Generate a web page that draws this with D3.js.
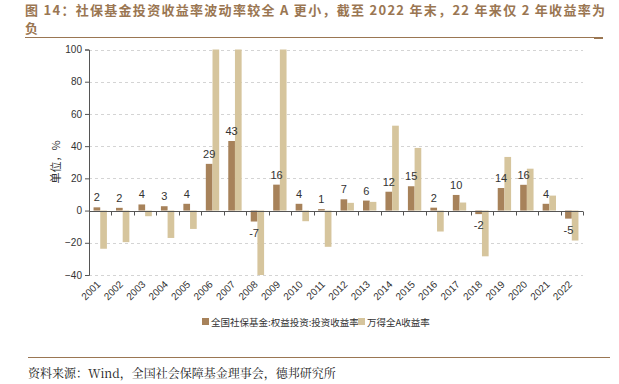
<!DOCTYPE html>
<html>
<head>
<meta charset="utf-8">
<title>社保基金投资收益率</title>
<style>
  body { margin: 0; background: #fff; }
  svg { display: block; font-family: "Liberation Sans", Arial, sans-serif; }
</style>
</head>
<body>
<script src="https://cdn.jsdelivr.net/npm/d3@7/dist/d3.min.js"></script>
<script>
// 数据
const years = ["2001","2002","2003","2004","2005","2006","2007","2008","2009","2010","2011",
               "2012","2013","2014","2015","2016","2017","2018","2019","2020","2021","2022"];
const ssfReturn = [2.0, 1.7, 3.8, 2.7, 4.2, 29.0, 43.2, -6.8, 16.1, 4.2, 0.9,
                   7.0, 6.2, 11.7, 15.1, 1.8, 9.7, -2.2, 14.0, 16.0, 4.2, -5.0];
const windAReturn = [-23.7, -19.6, -3.5, -17.0, -11.4, 130.0, 166.0, -62.0, 105.0, -6.6, -22.5,
                     4.8, 5.4, 52.7, 38.9, -13.0, 5.0, -28.4, 33.3, 26.0, 9.3, -18.6];
const seriesNames = ["全国社保基金:权益投资:投资收益率", "万得全A收益率"];
const yTicks = [-40, -20, 0, 20, 40, 60, 80, 100];

const colors = ["#a7825a", "#d6c59d"];
const brown = "#9a7652";

const width = 619, height = 384;
const svg = d3.select("body").append("svg").attr("width", width).attr("height", height);

// 标题
svg.append("text")
  .attr("x", 25).attr("y", 15)
  .attr("fill", brown)
  .attr("font-family", "'Noto Sans CJK SC', sans-serif")
  .attr("font-weight", "bold")
  .attr("font-size", 13)
  .attr("textLength", 580)
  .attr("lengthAdjust", "spacing")
  .text("图 14：社保基金投资收益率波动率较全 A 更小，截至 2022 年末，22 年来仅 2 年收益率为");
svg.append("text")
  .attr("x", 25).attr("y", 33)
  .attr("fill", brown)
  .attr("font-family", "'Noto Sans CJK SC', sans-serif")
  .attr("font-weight", "bold")
  .attr("font-size", 13)
  .text("负");
svg.append("line").attr("x1", 25).attr("x2", 603).attr("y1", 37.5).attr("y2", 37.5)
  .attr("stroke", brown).attr("stroke-width", 1);
svg.append("line").attr("x1", 594).attr("x2", 603).attr("y1", 38).attr("y2", 38)
  .attr("stroke", brown).attr("stroke-width", 2);

// 绘图区
const plot = { left: 89, right: 583, top: 49.5, bottom: 275 };

const y = d3.scaleLinear().domain([-40, 100]).range([plot.bottom, plot.top]).clamp(true);
const x0 = d3.scaleBand().domain(years).range([plot.left, plot.right]);
const x1 = d3.scaleBand().domain([0, 1]).range([0, x0.bandwidth()]).paddingOuter(0.68);

// 网格线
svg.append("g").selectAll("line")
  .data(yTicks.filter(d => d !== 0))
  .join("line")
  .attr("x1", plot.left).attr("x2", plot.right)
  .attr("y1", d => Math.round(y(d)) + 0.5).attr("y2", d => Math.round(y(d)) + 0.5)
  .attr("stroke", "#d4d4d4")
  .attr("stroke-dasharray", "3,3");

// 柱子
const groups = svg.append("g").selectAll("g")
  .data(years)
  .join("g")
  .attr("transform", d => `translate(${x0(d)},0)`);

groups.selectAll("rect")
  .data((d, i) => [ssfReturn[i], windAReturn[i]])
  .join("rect")
  .attr("x", (d, j) => x1(j))
  .attr("width", x1.bandwidth())
  .attr("y", d => y(Math.max(0, d)))
  .attr("height", d => Math.abs(y(d) - y(0)))
  .attr("fill", (d, j) => colors[j]);

// 数值标签
svg.append("g").selectAll("text")
  .data(years)
  .join("text")
  .attr("x", (d) => x0(d) + x1(0) + x1.bandwidth() / 2)
  .attr("y", (d, i) => ssfReturn[i] >= 0 ? y(ssfReturn[i]) - 6 : y(ssfReturn[i]) + 15)
  .attr("text-anchor", "middle")
  .attr("font-size", 11)
  .attr("fill", "#333")
  .text((d, i) => Math.round(ssfReturn[i]));

// y轴
const yAxis = svg.append("g")
  .attr("transform", `translate(${plot.left},0)`)
  .call(d3.axisLeft(y).tickValues(yTicks).tickSize(4).tickPadding(3));
yAxis.select(".domain").attr("stroke", "#555");
yAxis.selectAll(".tick line").attr("stroke", "#555");
yAxis.selectAll(".tick text").attr("font-size", 10).attr("fill", "#333")
  .attr("font-family", "'Liberation Sans', Arial, sans-serif");

// x轴
const xAxis = svg.append("g")
  .attr("transform", `translate(0,${Math.round(y(0)) + 0.5})`);
xAxis.append("line").attr("x1", plot.left).attr("x2", plot.right).attr("stroke", "#555");
xAxis.selectAll(".tk")
  .data(years.slice(1).concat(["end"]))
  .join("line")
  .attr("class", "tk")
  .attr("x1", (d, i) => Math.round(plot.left + x0.step() * (i + 1)) + 0.5)
  .attr("x2", (d, i) => Math.round(plot.left + x0.step() * (i + 1)) + 0.5)
  .attr("y1", 0).attr("y2", 4)
  .attr("stroke", "#555");

// x轴标签
svg.append("g").selectAll("text")
  .data(years)
  .join("text")
  .attr("transform", d => `translate(${x0(d) + x0.bandwidth() / 2 + 1},${plot.bottom + 10}) rotate(-45)`)
  .attr("text-anchor", "end")
  .attr("font-size", 10)
  .attr("fill", "#333")
  .text(d => d);

// y轴标题
svg.append("text")
  .attr("transform", `translate(60,162) rotate(-90)`)
  .attr("text-anchor", "middle")
  .attr("font-size", 11)
  .attr("fill", "#333")
  .attr("font-family", "'Noto Sans CJK SC', sans-serif")
  .text("单位，%");

// 图例
const legend = svg.append("g").attr("font-family", "'Noto Sans CJK SC', sans-serif");
const legendX = [202, 358];
seriesNames.forEach((name, i) => {
  legend.append("rect").attr("x", legendX[i]).attr("y", 318).attr("width", 7).attr("height", 7)
    .attr("fill", colors[i]);
  legend.append("text").attr("x", legendX[i] + 9).attr("y", 325.5)
    .attr("font-size", 9.5).attr("fill", "#333").text(name);
});

// 资料来源
svg.append("line").attr("x1", 28).attr("x2", 610).attr("y1", 357.5).attr("y2", 357.5)
  .attr("stroke", brown).attr("stroke-width", 1);
svg.append("text")
  .attr("x", 28).attr("y", 378)
  .attr("font-size", 12)
  .attr("fill", "#222")
  .attr("font-family", "'Noto Serif CJK SC', 'Noto Sans CJK SC', serif")
  .text("资料来源：Wind，全国社会保障基金理事会，德邦研究所");
</script>
</body>
</html>
